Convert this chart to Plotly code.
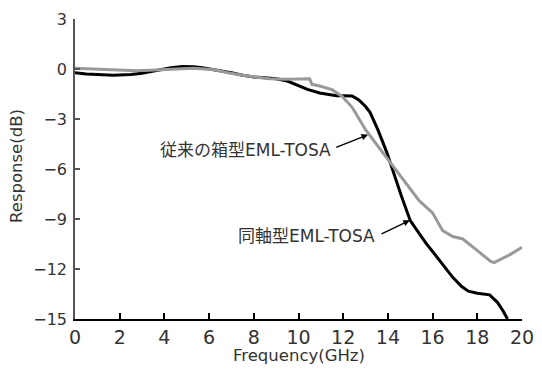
import plotly.graph_objects as go

# Coaxial EML-TOSA (black)
coax_f = [0, 0.5, 1.0, 1.7, 2.5, 3.0, 3.7, 4.3, 4.8, 5.3, 5.7, 6.2, 7.0, 7.5, 8.0, 8.5,
          9.0, 9.5, 10.0, 10.4, 10.95, 11.3, 11.7, 12.0, 12.4, 12.7, 13.0, 13.2, 13.55,
          13.95, 14.3, 14.6, 15.0, 15.3, 15.7, 16.0, 16.45, 16.9, 17.3, 17.6, 18.0, 18.55,
          18.9, 19.15, 19.35]
coax_db = [-0.22, -0.3, -0.33, -0.38, -0.33, -0.25, -0.08, 0.08, 0.15, 0.14, 0.08, -0.02,
           -0.22, -0.38, -0.48, -0.53, -0.58, -0.72, -1.0, -1.22, -1.44, -1.52, -1.6, -1.6,
           -1.62, -1.86, -2.25, -2.6, -3.64, -5.0, -6.46, -7.6, -9.1, -9.7, -10.45, -10.95,
           -11.7, -12.5, -13.05, -13.33, -13.45, -13.55, -14.0, -14.5, -15.0]

# Conventional box-type EML-TOSA (gray)
box_f = [0, 0.5, 1.1, 1.6, 2.0, 2.75, 3.6, 4.2, 4.8, 5.3, 5.8, 6.3, 6.9, 7.8, 8.7, 9.45,
         10.0, 10.5, 10.6, 10.95, 11.5, 11.95, 12.4, 13.0, 13.5, 14.08, 14.66, 15.06, 15.4,
         16.0, 16.45, 16.9, 17.35, 17.95, 18.6, 18.75, 19.45, 20.0]
box_db = [0.05, 0.02, 0.0, -0.04, -0.07, -0.1, -0.06, -0.01, 0.03, 0.04, 0.0, -0.06, -0.24,
          -0.44, -0.58, -0.62, -0.6, -0.58, -0.92, -1.02, -1.24, -1.64, -2.3, -3.64, -4.54,
          -5.56, -6.64, -7.35, -7.9, -8.63, -9.7, -10.05, -10.2, -10.84, -11.55, -11.62,
          -11.15, -10.7]

x_ticks = [0, 2, 4, 6, 8, 10, 12, 14, 16, 18, 20]
y_ticks = [3, 0, -3, -6, -9, -12, -15]

label_box = "従来の箱型EML-TOSA"
label_coax = "同軸型EML-TOSA"

FONT = "DejaVu Sans, Noto Sans CJK JP, sans-serif"
TXT = "#333333"

fig = go.Figure()
fig.add_trace(go.Scatter(x=coax_f, y=coax_db, mode="lines",
                         line=dict(color="#000000", width=3), showlegend=False))
fig.add_trace(go.Scatter(x=box_f, y=box_db, mode="lines",
                         line=dict(color="#999999", width=3), showlegend=False))

# arrows
fig.add_annotation(x=13.11, y=-3.94, ax=11.62, ay=-4.74, axref="x", ayref="y",
                   xref="x", yref="y", text="", showarrow=True, arrowhead=2,
                   arrowsize=1, arrowwidth=1.3, arrowcolor="#000000")
fig.add_annotation(x=14.98, y=-9.08, ax=13.65, ay=-9.94, axref="x", ayref="y",
                   xref="x", yref="y", text="", showarrow=True, arrowhead=2,
                   arrowsize=1, arrowwidth=1.3, arrowcolor="#000000")
# labels
fig.add_annotation(x=11.55, y=-4.87, xref="x", yref="y", text=label_box, showarrow=False,
                   xanchor="right", yanchor="middle", font=dict(family=FONT, size=17, color=TXT))
fig.add_annotation(x=13.52, y=-10.03, xref="x", yref="y", text=label_coax, showarrow=False,
                   xanchor="right", yanchor="middle", font=dict(family=FONT, size=17, color=TXT))

# axis titles
fig.add_annotation(x=0.5, y=-0.123, xref="paper", yref="paper", text="Frequency(GHz)",
                   showarrow=False, xanchor="center", yanchor="middle",
                   font=dict(family=FONT, size=16.5, color=TXT))
fig.add_annotation(x=-0.132, y=0.51, xref="paper", yref="paper", xanchor="center",
                   yanchor="middle", text="Response(dB)", textangle=-90, showarrow=False,
                   font=dict(family=FONT, size=16.5, color=TXT))

fig.update_layout(
    template="none",
    width=542, height=371,
    margin=dict(l=75, r=20, t=19, b=52),
    paper_bgcolor="white", plot_bgcolor="white",
    font=dict(family=FONT, color=TXT),
    showlegend=False,
    xaxis=dict(range=[0, 20], tickvals=x_ticks, ticktext=[str(v) for v in x_ticks],
               automargin=False,
               ticks="inside", ticklen=6, tickwidth=1.5, tickcolor="#000000",
               showline=True, linecolor="#000000", linewidth=2, showgrid=False,
               zeroline=False, tickfont=dict(family=FONT, size=19, color=TXT)),
    yaxis=dict(range=[-15, 3], tickvals=y_ticks,
               ticktext=[("\u2212" if v < 0 else "") + str(abs(v)) for v in y_ticks],
               automargin=False, ticklabelstandoff=3,
               ticks="inside", ticklen=5, tickwidth=1.5, tickcolor="#555555",
               showline=True, linecolor="#555555", linewidth=1.5, showgrid=False,
               zeroline=False, tickfont=dict(family=FONT, size=16, color=TXT)),
)

fig.write_html("out.html", config={"displayModeBar": False},
               post_script="document.body.style.margin='0';")
